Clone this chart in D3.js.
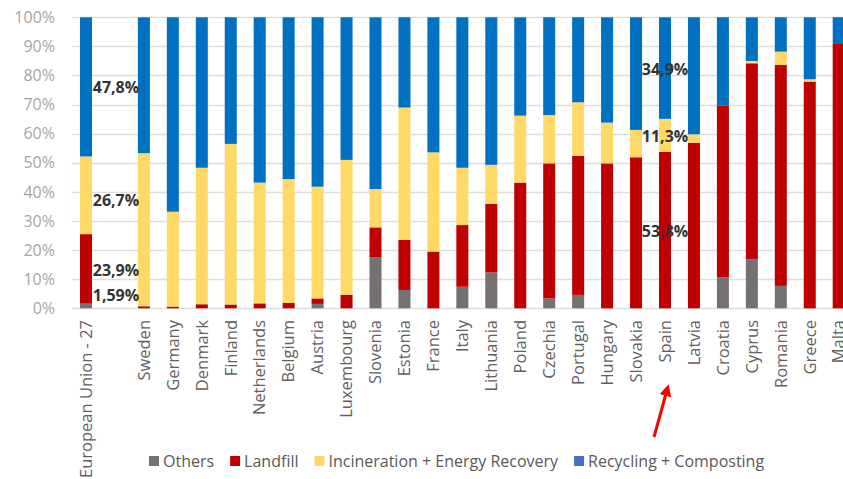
<!DOCTYPE html>
<html>
<head>
<meta charset="utf-8">
<script src="https://cdn.jsdelivr.net/npm/d3@7"></script>
<style>
  body { margin: 0; background: #fff; }
  text { font-family: "Open Sans", sans-serif; }
</style>
</head>
<body>
<div id="chart"></div>
<script>
var width = 843, height = 479;

// categories ("" is the empty slot after the EU bar)
var countries = ["European Union - 27", "", "Sweden", "Germany", "Denmark", "Finland", "Netherlands",
    "Belgium", "Austria", "Luxembourg", "Slovenia", "Estonia", "France", "Italy", "Lithuania",
    "Poland", "Czechia", "Portugal", "Hungary", "Slovakia", "Spain", "Latvia", "Croatia",
    "Cyprus", "Romania", "Greece", "Malta"];

// shares in %
var others       = [1.59, 0, 0,   0,   0,   0,   0,   0,   1.5, 0,   17.5, 6.3, 0,   7.4, 12.3, 0,   3.4, 4.6, 0,   0,   0,    0,   10.7, 16.8, 7.7, 0,   0];
var landfill     = [23.9, 0, 0.7, 0.6, 1.4, 1.3, 1.7, 1.9, 1.9, 4.6, 10.3, 17.2, 19.5, 21.2, 23.6, 43.2, 46.4, 47.8, 49.8, 51.9, 53.8, 56.9, 58.9, 67.4, 75.9, 77.9, 91.1];
var incineration = [26.7, 0, 52.6, 32.6, 46.9, 55.2, 41.5, 42.5, 38.4, 46.4, 13.2, 45.5, 34.1, 19.7, 13.4, 23.0, 16.6, 18.4, 14.0, 9.4, 11.3, 2.9, 0, 0.8, 4.6, 0.8, 0];
var recycling    = [47.8, 0, 46.7, 66.8, 51.7, 43.5, 56.8, 55.6, 58.2, 49.0, 59.0, 31.0, 46.4, 51.7, 50.7, 33.8, 33.6, 29.2, 36.2, 38.7, 34.9, 40.2, 30.4, 15.0, 11.8, 21.3, 8.9];

var keys = ["Others", "Landfill", "Incineration + Energy Recovery", "Recycling + Composting"];
var barColors = ["#767171", "#c00000", "#ffd966", "#0070c0"];
var legendColors = ["#767171", "#c00000", "#ffd966", "#4472c4"];

// value labels written on the chart
var labelCountry = ["European Union - 27", "European Union - 27", "European Union - 27", "European Union - 27", "Spain", "Spain", "Spain"];
var labelText    = ["47,8%", "26,7%", "23,9%", "1,59%", "34,9%", "11,3%", "53,8%"];
var labelValue   = [76, 37, 13, 4.5, 82, 59, 26.5];

var yTicks = [0, 10, 20, 30, 40, 50, 60, 70, 80, 90, 100];

var rows = countries.map(function(c, i) {
    return {i: i, name: c, "Others": others[i], "Landfill": landfill[i],
            "Incineration + Energy Recovery": incineration[i], "Recycling + Composting": recycling[i]};
});

var svg = d3.select("#chart").append("svg")
    .attr("width", width)
    .attr("height", height);

var x = d3.scaleBand()
    .domain(d3.range(countries.length))
    .range([72, 852.7])
    .paddingInner(0.585)
    .paddingOuter(0.276);

var y = d3.scaleLinear()
    .domain([0, 100])
    .range([308.3, 17.3]);

// grid
svg.append("g").selectAll("line")
    .data(yTicks)
    .enter().append("line")
    .attr("x1", 72)
    .attr("x2", width)
    .attr("y1", function(d) { return Math.round(y(d)) + 0.5; })
    .attr("y2", function(d) { return Math.round(y(d)) + 0.5; })
    .style("stroke", "#dedede")
    .style("stroke-width", 1.5);

// y axis labels
var yAxis = d3.axisLeft(y).tickValues(yTicks).tickFormat(function(d) { return d + "%"; }).tickSize(0).tickPadding(0);
svg.append("g")
    .attr("transform", "translate(55,0)")
    .call(yAxis)
    .call(function(g) { g.select(".domain").remove(); })
    .selectAll("text")
    .style("font-family", "Open Sans")
    .style("font-size", "16px")
    .style("fill", "#a6a6a6");

// stacked bars
var series = d3.stack().keys(keys)(rows);
svg.append("g").selectAll("g")
    .data(series)
    .enter().append("g")
    .style("fill", function(d, i) { return barColors[i]; })
    .selectAll("rect")
    .data(function(d) { return d; })
    .enter().append("rect")
    .attr("x", function(d) { return x(d.data.i); })
    .attr("width", x.bandwidth())
    .attr("y", function(d) { return y(d[1]); })
    .attr("height", function(d) { return Math.max(0, y(d[0]) - y(d[1])); });

// x axis labels
var xAxis = d3.axisBottom(x).tickSize(0).tickFormat(function(i) { return countries[i]; });
svg.append("g")
    .attr("transform", "translate(0,320)")
    .call(xAxis)
    .call(function(g) { g.select(".domain").remove(); })
    .selectAll("text")
    .attr("transform", "rotate(-90)")
    .attr("x", 0)
    .attr("y", 0)
    .attr("dy", "0.35em")
    .style("text-anchor", "end")
    .style("font-family", "Open Sans")
    .style("font-size", "16.5px")
    .style("fill", "#5f5f5f");

// value labels
svg.append("g").selectAll("text")
    .data(labelText)
    .enter().append("text")
    .attr("x", function(d, i) {
        var c = countries.indexOf(labelCountry[i]);
        return labelCountry[i] == "Spain" ? x(c) + x.bandwidth() / 2 : x(c) + x.step() + x.bandwidth() / 2 + 1;
    })
    .attr("y", function(d, i) { return y(labelValue[i]); })
    .attr("dy", "0.35em")
    .style("text-anchor", "middle")
    .style("font-size", "16px")
    .style("font-weight", "bold")
    .style("fill", "#333333")
    .text(function(d) { return d; });

// arrow pointing at Spain
var spain = countries.indexOf("Spain");
var ax = x(spain) + x.bandwidth() / 2;
svg.append("defs").append("marker")
    .attr("id", "head")
    .attr("viewBox", "0 0 10 10")
    .attr("refX", 5)
    .attr("refY", 5)
    .attr("markerWidth", 4)
    .attr("markerHeight", 4)
    .attr("orient", "auto")
    .append("path")
    .attr("d", "M0,0 L10,5 L0,10 z")
    .style("fill", "#ff0000");
svg.append("line")
    .attr("x1", ax - 11)
    .attr("y1", 437)
    .attr("x2", ax + 2)
    .attr("y2", 390)
    .attr("marker-end", "url(#head)")
    .style("stroke", "#ff0000")
    .style("stroke-width", 3);

// legend
var legend = svg.append("g").attr("transform", "translate(149,461)");
var lx = 0;
keys.forEach(function(k, i) {
    legend.append("rect")
        .attr("x", lx)
        .attr("y", -5)
        .attr("width", 10)
        .attr("height", 10)
        .style("fill", legendColors[i]);
    var t = legend.append("text")
        .attr("x", lx + 14)
        .attr("dy", "0.35em")
        .style("font-size", "16px")
        .style("fill", "#595959")
        .text(k);
    lx += 14 + t.node().getComputedTextLength() + 16;
});
</script>
</body>
</html>
